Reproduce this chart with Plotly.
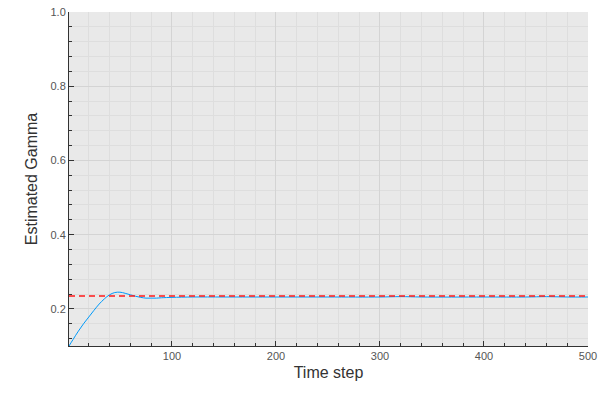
import plotly.graph_objects as go

steps = [1, 5, 10, 15, 20, 25, 30, 35, 40, 45, 50, 55, 60, 65, 70, 75, 80, 85, 90, 100,
         120, 150, 200, 250, 300, 320, 340, 400, 440, 460, 480, 500]
gamma_est = [0.100, 0.118, 0.140, 0.160, 0.178, 0.196, 0.213, 0.227, 0.238, 0.244, 0.245,
             0.242, 0.238, 0.234, 0.231, 0.229, 0.229, 0.229, 0.230, 0.231,
             0.232, 0.232, 0.232, 0.232, 0.232, 0.233, 0.232, 0.232, 0.232, 0.233, 0.232, 0.232]
true_x = [1, 500]
true_gamma = [0.235, 0.235]

fig = go.Figure()
fig.add_trace(go.Scatter(x=steps, y=gamma_est, mode="lines", line=dict(color="#009AFA", width=1, shape="spline")))
fig.add_trace(go.Scatter(x=true_x, y=true_gamma, mode="lines", line=dict(color="#FF1A1A", width=1.5, dash="6px,4px")))

font = "Liberation Sans, Arial, sans-serif"
fig.update_layout(
    width=600, height=400, showlegend=False,
    paper_bgcolor="white", plot_bgcolor="#e9e9e9",
    margin=dict(l=69, r=12, t=12, b=54, autoexpand=False),
    font=dict(family=font, color="#555"),
)
fig.update_xaxes(
    automargin=False,
    range=[1, 500], tick0=0, dtick=100, ticks="inside", ticklen=5, tickcolor="#333",
    showline=True, linecolor="#333", linewidth=1, zeroline=False,
    showgrid=True, gridcolor="#d4d4d4", gridwidth=1,
    tickfont=dict(size=11, color="#555"),
    minor=dict(dtick=20, tick0=0, ticks="inside", ticklen=3, tickcolor="#333", showgrid=True, gridcolor="#dedede"),
    title=dict(text="Time step", font=dict(size=16, color="#333"), standoff=5),
)
fig.update_yaxes(
    automargin=False,
    range=[0.1, 1.0], tick0=0, dtick=0.2, ticks="inside", ticklen=5, tickcolor="#333",
    showline=True, linecolor="#333", linewidth=1, zeroline=False,
    showgrid=True, gridcolor="#d4d4d4", gridwidth=1, tickformat=".1f",
    tickfont=dict(size=11, color="#555"),
    minor=dict(dtick=0.04, tick0=0, ticks="inside", ticklen=3, tickcolor="#333", showgrid=True, gridcolor="#dedede"),
    title=dict(text="Estimated Gamma", font=dict(size=16, color="#333"), standoff=8),
)
fig.write_html("out.html", config={"displayModeBar": False},
               post_script="document.body.style.margin='0';")
